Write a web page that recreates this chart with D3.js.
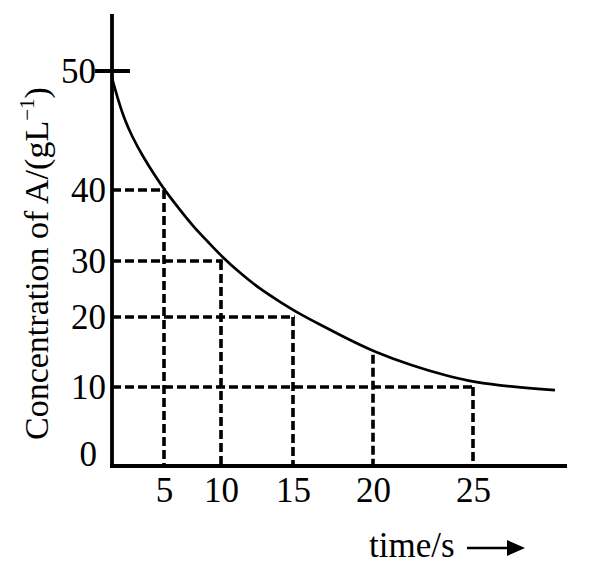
<!DOCTYPE html>
<html>
<head>
<meta charset="utf-8">
<script src="https://cdn.jsdelivr.net/npm/d3@7"></script>
<style>
  body { margin: 0; background: #fff; }
  svg { display: block; }
</style>
</head>
<body>
<svg id="chart" width="598" height="569"></svg>
<script>
// tick values
const timeTicks = [5, 10, 15, 20, 25];
const concTicks = [0, 10, 20, 30, 40, 50];

// decay curve (time in s, concentration in g/L)
const curveTime = [0, 0.58, 1.15, 1.92, 2.98, 4.13, 5.09, 6.4, 7.54, 8.86, 10.07, 11.3,
    12.7, 14.1, 15.44, 16.7, 18.4, 20, 22, 23.7, 25, 27, 29.1];
const curveConc = [49.4, 47.6, 46.05, 44.5, 42.8, 41.2, 39.9, 37.2, 34.9, 32.7, 30.6, 27.9,
    25, 22.7, 20.5, 18.9, 16.9, 15.1, 13, 11.6, 10.7, 10, 9.6];

// dashed guides: point they reach, and whether a horizontal goes back to the y axis
const guideTime = [5, 10, 15, 20, 25];
const guideConc = [40, 30, 20, 14.6, 10];
const guideHoriz = [true, true, true, false, true];

const svg = d3.select('#chart');
const font = 'Liberation Serif, Times New Roman, serif';

// the figure is hand drawn, so ticks are not evenly spaced: piecewise scales
const x = d3.scaleLinear()
    .domain([0, 5, 10, 15, 20, 25])
    .range([112, 164, 221, 293, 373, 473]);

const y = d3.scaleLinear()
    .domain([0, 10, 20, 30, 40, 50])
    .range([466, 387, 317, 261, 190, 71]);

const axisTop = 14;
const axisRight = 567;

// dashed guide lines
const guides = svg.append('g')
    .attr('stroke', '#000')
    .attr('stroke-width', 3.6)
    .attr('stroke-dasharray', '9,4');

for (let i = 0; i < guideTime.length; i++) {
    guides.append('line')
        .attr('x1', x(guideTime[i]))
        .attr('y1', y(guideConc[i]))
        .attr('x2', x(guideTime[i]))
        .attr('y2', y(0));
    if (guideHoriz[i])
        guides.append('line')
            .attr('x1', x(0))
            .attr('y1', y(guideConc[i]))
            .attr('x2', x(guideTime[i]) + 1.8)
            .attr('y2', y(guideConc[i]));
}

// curve
const pts = curveTime.map((t, i) => [t, curveConc[i]]);
svg.append('path')
    .datum(pts)
    .attr('fill', 'none')
    .attr('stroke', '#000')
    .attr('stroke-width', 2.7)
    .attr('d', d3.line()
        .x(d => x(d[0]))
        .y(d => y(d[1]))
        .curve(d3.curveBasis));

// axis lines
svg.append('line')
    .attr('x1', x(0)).attr('y1', axisTop)
    .attr('x2', x(0)).attr('y2', y(0) + 2)
    .attr('stroke', '#000').attr('stroke-width', 3.8);
svg.append('line')
    .attr('x1', x(0) - 2).attr('y1', y(0))
    .attr('x2', axisRight).attr('y2', y(0))
    .attr('stroke', '#000').attr('stroke-width', 3.8);

// tick mark at 50
svg.append('line')
    .attr('x1', x(0) - 17).attr('y1', y(50))
    .attr('x2', x(0) + 18).attr('y2', y(50))
    .attr('stroke', '#000').attr('stroke-width', 3.8);

// y tick labels
const yAxis = svg.append('g')
    .attr('transform', `translate(${x(0)},0)`)
    .call(d3.axisLeft(y).tickValues(concTicks).tickSize(0).tickPadding(6));
yAxis.select('.domain').remove();
yAxis.attr('font-family', font).attr('font-size', 35);
yAxis.selectAll('text').attr('fill', '#000');
yAxis.selectAll('.tick').filter(d => d === 50).select('text').attr('x', -16);
yAxis.selectAll('.tick').filter(d => d === 0).select('text').attr('x', -15).attr('dy', '-0.02em');

// x tick labels
const xAxis = svg.append('g')
    .attr('transform', `translate(0,${y(0)})`)
    .call(d3.axisBottom(x).tickValues(timeTicks).tickSize(0).tickPadding(11));
xAxis.select('.domain').remove();
xAxis.attr('font-family', font).attr('font-size', 35);
xAxis.selectAll('text').attr('fill', '#000');

// y axis title
const yTitle = svg.append('text')
    .attr('transform', 'translate(48,440) rotate(-90)')
    .attr('font-family', font)
    .attr('font-size', 34)
    .attr('fill', '#000');
yTitle.append('tspan').text('Concentration of A/(gL');
yTitle.append('tspan').attr('dy', -14).attr('font-size', 21).text('\u22121');
yTitle.append('tspan').attr('dy', 14).text(')');

// x axis title with arrow
svg.append('text')
    .attr('x', 369)
    .attr('y', 557)
    .attr('font-family', font)
    .attr('font-size', 35)
    .attr('fill', '#000')
    .text('time/s');

svg.append('line')
    .attr('x1', 467).attr('y1', 548)
    .attr('x2', 510).attr('y2', 548)
    .attr('stroke', '#000').attr('stroke-width', 2.6);
svg.append('path')
    .attr('d', 'M507,540 L525,548 L507,556 Z')
    .attr('fill', '#000');
</script>
</body>
</html>
